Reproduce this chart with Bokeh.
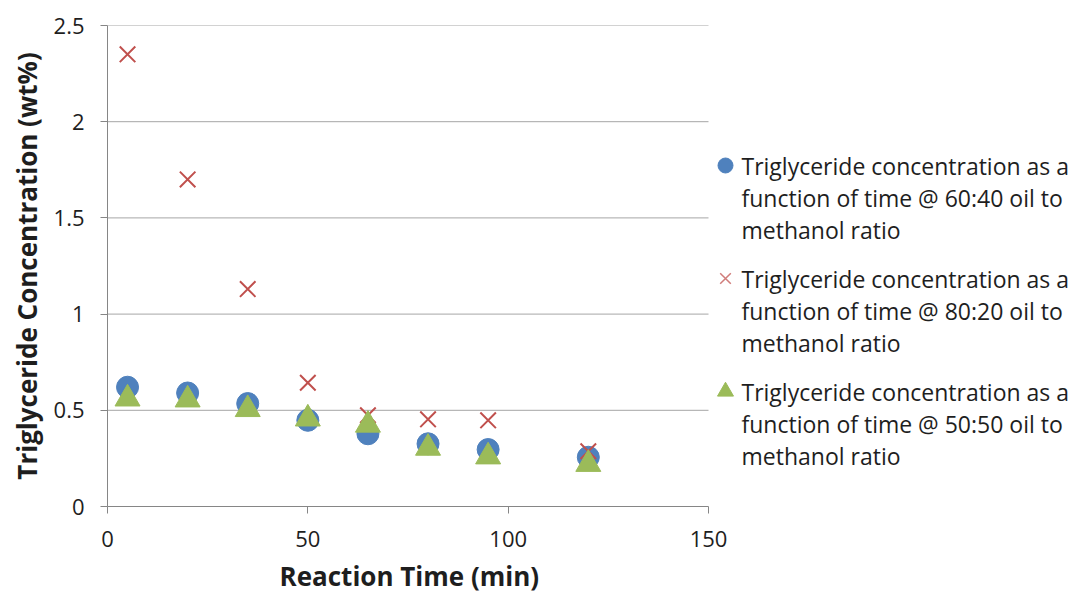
from bokeh.plotting import figure
from bokeh.models import Range1d, FixedTicker, Title
from bokeh.core.properties import value
from bokeh.embed import file_html
from bokeh.resources import INLINE

# Data
times = [5, 20, 35, 50, 65, 80, 95, 120]
conc_60_40 = [0.62, 0.59, 0.535, 0.448, 0.378, 0.326, 0.296, 0.256]
conc_80_20 = [2.35, 1.70, 1.13, 0.643, 0.474, 0.453, 0.448, 0.287]
conc_50_50 = [0.56, 0.555, 0.505, 0.456, 0.424, 0.304, 0.259, 0.22]
series_labels = [
    ["Triglyceride concentration as a", "function of time @ 60:40 oil to", "methanol ratio"],
    ["Triglyceride concentration as a", "function of time @ 80:20 oil to", "methanol ratio"],
    ["Triglyceride concentration as a", "function of time @ 50:50 oil to", "methanol ratio"],
]
x_ticks = [0, 50, 100, 150]
y_ticks = [0, 0.5, 1, 1.5, 2, 2.5]
x_title = "Reaction Time (min)"
y_title = "Triglyceride Concentration (wt%)"

FONT = "Open Sans"
TEXT_COLOR = "#1e1e1e"
colors = ["#4F81BD", "#C0504D", "#9BBB59"]
markers = ["circle", "x", "triangle"]

# Layout (pixels)
FIG_W, FIG_H = 1074, 599
LEFT, TOP, BOTTOM = 107, 25, 93
PLOT_W = 601                       # width of the data area (0..150)
FRAME_W = FIG_W - LEFT
FRAME_H = FIG_H - TOP - BOTTOM
X_MAX, Y_MAX = x_ticks[-1], y_ticks[-1]
x_end = X_MAX * FRAME_W / PLOT_W   # frame extends right to hold the legend

p = figure(width=FIG_W, height=FIG_H, output_backend="svg", toolbar_location=None,
           x_range=Range1d(0, x_end), y_range=Range1d(0, Y_MAX),
           min_border_left=LEFT, min_border_right=0, min_border_top=TOP, min_border_bottom=BOTTOM)
p.outline_line_color = None
p.xgrid.grid_line_color = None
p.ygrid.grid_line_color = None

# horizontal gridlines limited to the data area
grid_y = [t for t in y_ticks if t > 0]
p.segment(x0=[0] * len(grid_y), x1=[X_MAX] * len(grid_y), y0=grid_y, y1=grid_y,
          line_color="#A6A6A6", line_width=1)

p.scatter(times, conc_60_40, marker="circle", size=22, fill_color=colors[0], line_color=colors[0])
p.scatter(times, conc_80_20, marker="x", size=22, line_color=colors[1], line_width=2)
p.scatter(times, conc_50_50, marker="triangle", size=25, fill_color=colors[2], line_color=colors[2])

p.xaxis.ticker = FixedTicker(ticks=x_ticks)
p.yaxis.ticker = FixedTicker(ticks=y_ticks)
p.xaxis.bounds = (0, X_MAX)
for ax in (p.xaxis, p.yaxis):
    ax.axis_line_color = "#868686"
    ax.major_tick_line_color = "#868686"
    ax.major_tick_in = 0
    ax.major_tick_out = 7
    ax.minor_tick_line_color = None
    ax.major_label_text_font = FONT
    ax.major_label_text_font_size = "22px"
    ax.major_label_text_color = TEXT_COLOR
p.yaxis.axis_label = y_title
p.yaxis.axis_label_text_font = FONT
p.yaxis.axis_label_text_font_size = "26px"
p.yaxis.axis_label_text_font_style = "bold"
p.yaxis.axis_label_text_color = TEXT_COLOR
p.xaxis.major_label_standoff = 17
p.yaxis.major_label_standoff = 16
p.yaxis.axis_label_standoff = 6

# x-axis title placed under the centre of the data area
xt = Title(text=x_title, align="left", offset=172,
           text_font=FONT, text_font_size="26px", text_font_style="bold",
           text_color=TEXT_COLOR, standoff=12, text_line_height=0.9)
p.add_layout(xt, "below")

# Legend drawn to the right of the data area (positions in pixels, converted to data units)
def px_to_x(px):
    return (px - LEFT) * X_MAX / PLOT_W

def py_to_y(py):
    return (TOP + FRAME_H - py) * Y_MAX / FRAME_H

first_line_y = 165
line_pitch = 32
group_pitch = 113
glyph_px = 725
text_px = 741

for i, (col, mk) in enumerate(zip(colors, markers)):
    gy = py_to_y(first_line_y + i * group_pitch)
    if mk == "x":
        p.scatter([px_to_x(glyph_px)], [gy], marker="x", size=15, line_color=col,
                  line_width=1.5, line_alpha=0.75)
    else:
        p.scatter([px_to_x(glyph_px)], [gy], marker=mk, size=16 if mk == "triangle" else 15,
                  fill_color=col, line_color=col)

tx, ty, tt = [], [], []
for i, lines in enumerate(series_labels):
    for j, line in enumerate(lines):
        tx.append(px_to_x(text_px))
        ty.append(py_to_y(first_line_y + i * group_pitch + j * line_pitch))
        tt.append(line)
p.text(tx, ty, text=tt, text_font=value(FONT), text_font_size="23px",
       text_color=TEXT_COLOR, text_align="left", text_baseline="middle")

open("out.html", "w").write(file_html(p, INLINE))
